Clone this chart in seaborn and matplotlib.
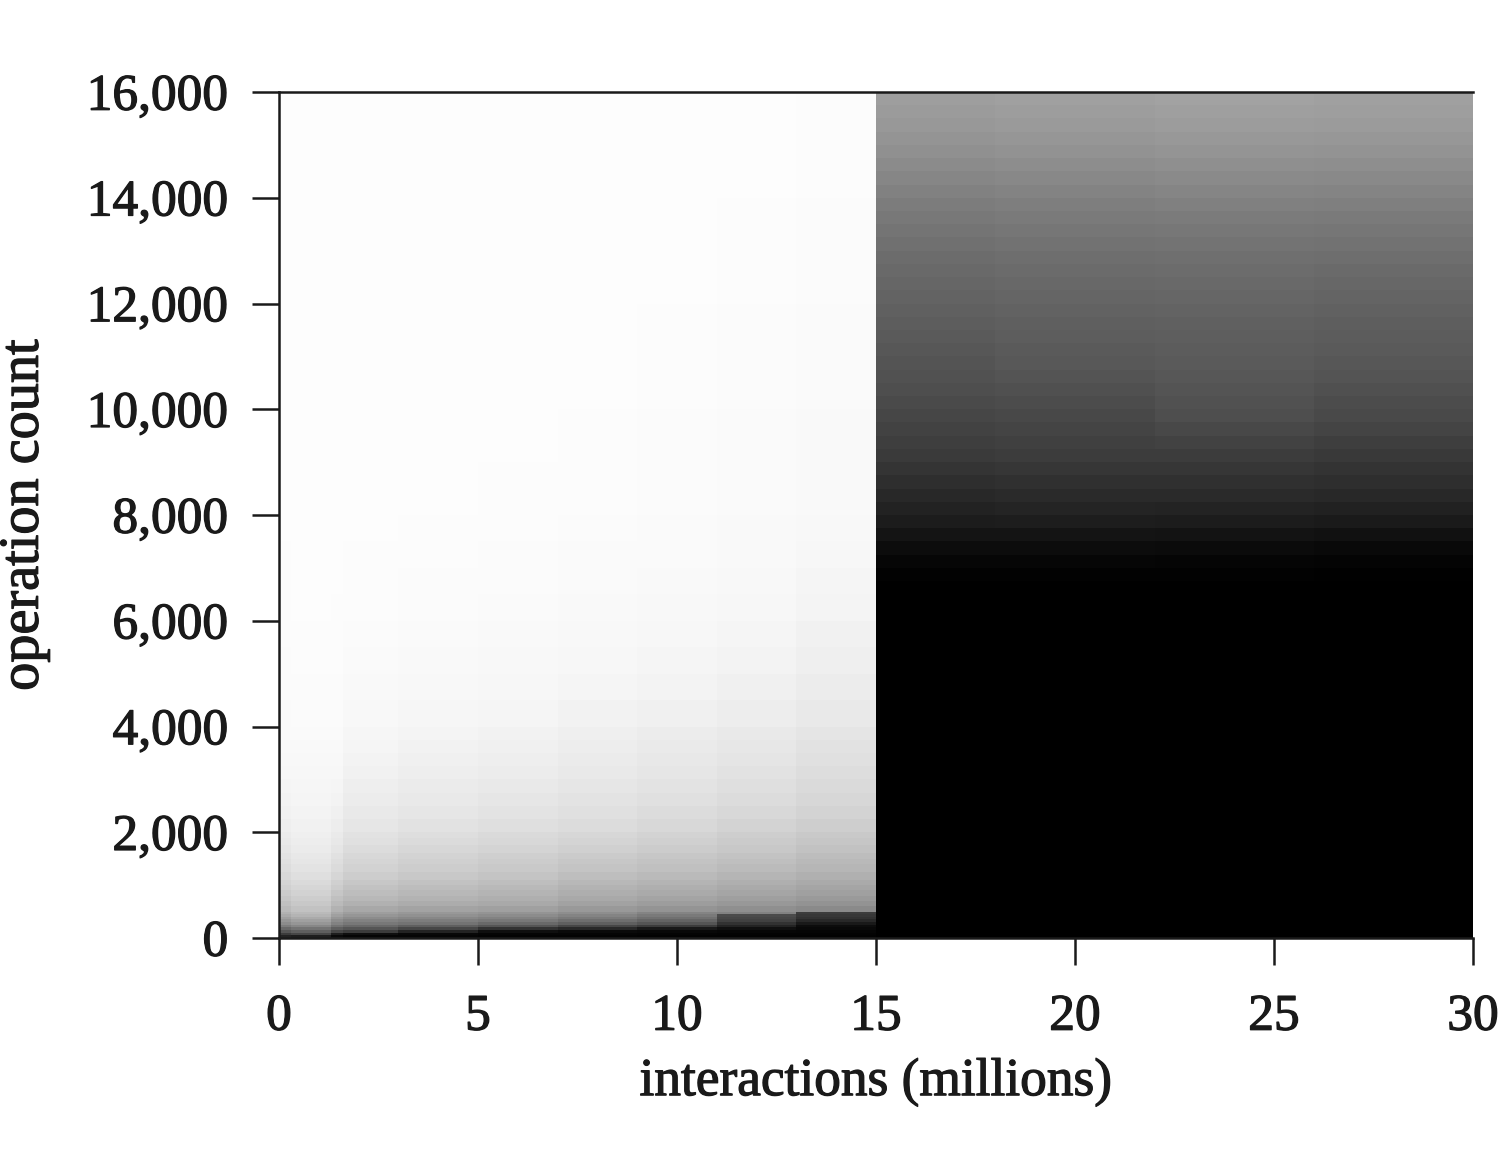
import numpy as np
import pandas as pd
import seaborn as sns
import matplotlib.pyplot as plt
import matplotlib.patheffects as pe

# grey level (0 black, 255 white)
# left half, interactions 0 to 15 million
left_col_widths = [0.3, 1.0, 0.3, 1.4, 2.0, 2.0, 2.0, 2.0, 2.0, 2.0]
left_row_tops = [50, 100, 150, 200, 250, 300, 350, 400, 450, 500,
                 600, 700, 800, 900, 1000, 1100, 1250, 1400, 1500, 1600,
                 1750, 1900, 2000, 2250, 2500, 2750, 3000, 3250, 3500, 3750,
                 4000, 4500, 5000, 5500, 6000, 6500, 7000, 7500, 8000, 9000,
                 10000, 11000, 12000, 14000, 16000]
col_a = [35, 60, 85, 105, 125, 140, 150, 160, 170, 178, 186, 192, 198, 203, 208, 212, 217, 221, 224, 227, 230, 233, 235, 238, 241, 243, 245, 247, 248, 249, 250, 250, 251, 251, 252, 252, 252, 252, 253, 253, 253, 253, 253, 253, 253]
col_b = [30, 70, 95, 115, 135, 150, 160, 170, 180, 186, 194, 200, 205, 210, 214, 218, 223, 227, 230, 232, 235, 237, 239, 241, 243, 245, 246, 247, 248, 249, 250, 251, 251, 252, 252, 253, 253, 253, 253, 253, 253, 253, 253, 253, 253]
col_c = [10, 30, 70, 95, 115, 130, 140, 150, 160, 168, 178, 186, 192, 198, 204, 208, 214, 219, 222, 225, 229, 232, 234, 237, 240, 243, 245, 247, 248, 249, 250, 251, 251, 252, 252, 252, 253, 253, 253, 253, 253, 253, 253, 253, 253]
col_d = [5, 15, 60, 85, 105, 120, 130, 140, 150, 158, 168, 177, 184, 189, 194, 199, 205, 210, 213, 216, 220, 224, 226, 230, 233, 236, 238, 241, 243, 245, 246, 248, 249, 250, 251, 252, 252, 252, 253, 253, 253, 253, 253, 253, 253]
col_e = [5, 8, 35, 70, 95, 115, 125, 135, 145, 152, 163, 172, 179, 184, 189, 194, 200, 205, 208, 211, 215, 219, 222, 226, 230, 233, 235, 238, 240, 242, 244, 246, 248, 249, 250, 251, 251, 252, 252, 253, 253, 253, 253, 253, 253]
col_f = [3, 5, 15, 50, 85, 105, 120, 130, 140, 148, 160, 169, 175, 180, 185, 190, 196, 201, 204, 207, 212, 216, 218, 223, 227, 230, 233, 236, 238, 240, 242, 245, 247, 248, 249, 250, 251, 251, 252, 252, 253, 253, 253, 253, 253]
col_g = [3, 5, 10, 40, 70, 95, 110, 122, 132, 142, 153, 162, 169, 174, 179, 184, 190, 196, 199, 203, 208, 212, 215, 220, 224, 227, 230, 233, 235, 237, 239, 242, 245, 247, 248, 249, 250, 250, 251, 252, 252, 253, 253, 253, 253]
col_h = [2, 4, 8, 25, 60, 85, 100, 112, 122, 132, 148, 157, 164, 170, 175, 180, 186, 192, 195, 199, 204, 208, 211, 216, 220, 224, 227, 230, 232, 234, 236, 240, 243, 245, 247, 248, 249, 250, 250, 251, 251, 252, 252, 253, 253]
col_i = [2, 3, 6, 15, 35, 50, 65, 70, 75, 130, 143, 152, 159, 165, 170, 175, 181, 187, 191, 195, 200, 203, 206, 211, 216, 220, 223, 226, 229, 231, 233, 237, 240, 243, 245, 247, 248, 249, 249, 250, 250, 251, 251, 252, 253]
col_j = [2, 3, 5, 8, 12, 25, 40, 50, 55, 60, 138, 147, 154, 160, 165, 170, 176, 182, 185, 189, 194, 198, 201, 206, 211, 215, 218, 221, 224, 226, 229, 233, 236, 239, 241, 244, 245, 247, 248, 249, 249, 250, 250, 251, 252]

# right half, interactions 15 to 30 million
right_col_widths = [3.0, 4.0, 4.0, 4.0]
right_row_tops = [6750, 7000, 7250, 7500, 7750, 8000, 8250, 8500, 8750, 9000, 9250, 9500, 9750,
                  10000, 10250, 10500, 10750, 11000, 11250, 11500, 11750, 12000, 12250, 12500, 12750,
                  13000, 13250, 13500, 13750, 14000, 14250, 14500, 14750, 15000, 15250, 15500, 15750, 16000]
col_p = [0, 2, 6, 12, 20, 28, 34, 40, 46, 52, 58, 62, 66, 70, 74, 78, 81, 84, 87, 90, 93, 96, 99, 102, 105, 108, 112, 116, 120, 124, 129, 134, 139, 144, 148, 152, 155, 158]
col_q = [0, 2, 6, 12, 20, 29, 36, 42, 48, 54, 60, 64, 68, 72, 76, 80, 84, 88, 90, 93, 95, 98, 101, 104, 107, 110, 114, 118, 122, 126, 131, 136, 141, 146, 150, 154, 157, 160]
col_r = [0, 2, 5, 11, 19, 28, 35, 42, 48, 54, 60, 66, 72, 78, 81, 84, 87, 90, 92, 94, 96, 99, 102, 105, 108, 111, 115, 119, 123, 128, 133, 138, 143, 148, 152, 156, 159, 162]
col_s = [0, 1, 4, 9, 17, 26, 33, 40, 46, 51, 57, 62, 68, 73, 76, 80, 84, 87, 90, 92, 94, 97, 100, 103, 106, 110, 114, 118, 122, 127, 132, 137, 142, 147, 151, 155, 158, 160]

x_ticks = [0, 5, 10, 15, 20, 25, 30]
y_ticks = [0, 2000, 4000, 6000, 8000, 10000, 12000, 14000, 16000]

ROW_STEP = 50
COL_STEP = 0.1


def expand(columns, col_widths, row_tops):
    # repeat every read-off block over a regular grid, top row first
    heights = np.diff([0] + row_tops) // ROW_STEP
    cols = [np.repeat(c, heights) for c in columns]
    block = np.column_stack(cols)[::-1]
    repeats = np.round(np.array(col_widths) / COL_STEP).astype(int)
    return np.repeat(block, repeats, axis=1)


left = expand([col_a, col_b, col_c, col_d, col_e, col_f, col_g, col_h, col_i, col_j],
              left_col_widths, left_row_tops)
right = expand([col_p, col_q, col_r, col_s], right_col_widths, right_row_tops)

op_levels = np.arange(16000, 0, -ROW_STEP)
interactions = np.arange(0, left.shape[1] + right.shape[1]) * COL_STEP
table = pd.DataFrame(np.hstack([left, right]), index=op_levels, columns=interactions.round(1))

sns.set_theme(style="white")
plt.rcParams['font.family'] = ['Liberation Serif', 'DejaVu Serif']
ink = '#1a1a1a'
bolder = [pe.withStroke(linewidth=0.9, foreground=ink)]

fig = plt.figure(figsize=(15, 11.65), dpi=100)
ax = fig.add_axes([279 / 1500, 1 - 938 / 1165, (1473 - 279) / 1500, (938 - 92) / 1165])
sns.heatmap(table, ax=ax, cmap='gray', vmin=0, vmax=255, cbar=False, xticklabels=False, yticklabels=False)

ax.set_xticks([x / COL_STEP for x in x_ticks])
ax.set_xticklabels([str(x) for x in x_ticks], rotation=0)
ax.set_yticks([(16000 - y) / ROW_STEP for y in y_ticks])
ax.set_yticklabels([f'{y:,}' for y in y_ticks], rotation=0)
ax.tick_params(axis='both', length=19.5, width=1.8, color=ink, labelcolor=ink, labelsize=37,
               left=True, bottom=True)
ax.tick_params(axis='y', pad=17)
ax.tick_params(axis='x', pad=21)
ax.set_xlabel('interactions (millions)', fontsize=38.4, color=ink)
ax.set_ylabel('operation count', fontsize=40.5, color=ink)
ax.xaxis.set_label_coords(0.5, -0.142)
ax.yaxis.set_label_coords(-0.192, 0.5)

for label in ax.get_xticklabels() + ax.get_yticklabels() + [ax.xaxis.label, ax.yaxis.label]:
    label.set_path_effects(bolder)

for side in ['left', 'top', 'bottom']:
    ax.spines[side].set_visible(True)
    ax.spines[side].set_color(ink)
    ax.spines[side].set_linewidth(1.8)

fig.savefig('out.png', dpi=100)
